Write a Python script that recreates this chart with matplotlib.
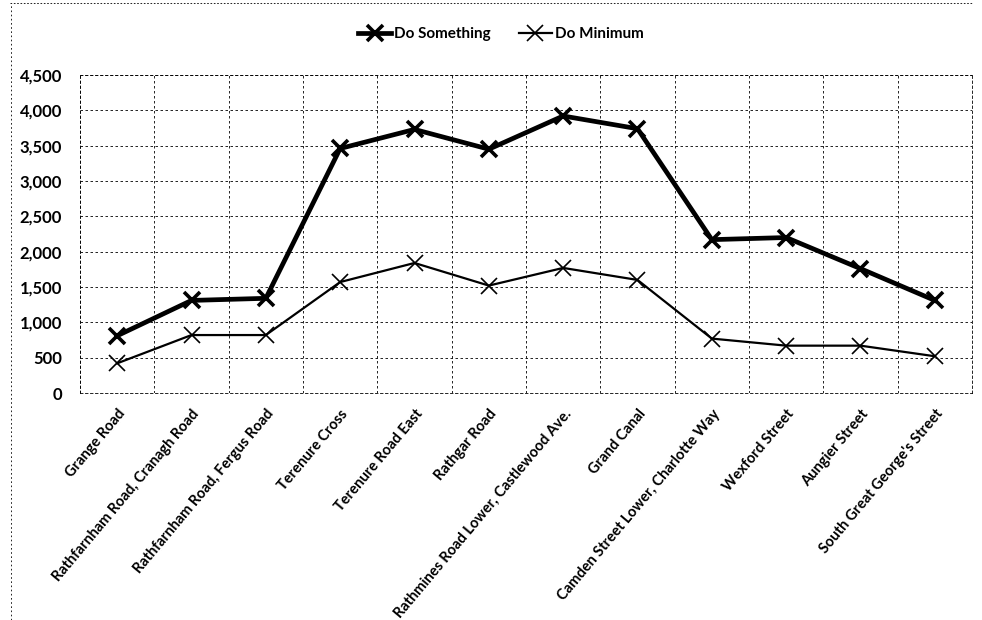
import matplotlib
matplotlib.use("Agg")
import matplotlib.pyplot as plt
from matplotlib.lines import Line2D

categories = ["Grange Road", "Rathfarnham Road, Cranagh Road", "Rathfarnham Road, Fergus Road",
              "Terenure Cross", "Terenure Road East", "Rathgar Road",
              "Rathmines Road Lower, Castlewood Ave.", "Grand Canal",
              "Camden Street Lower, Charlotte Way", "Wexford Street", "Aungier Street",
              "South Great George's Street"]
do_something = [810, 1310, 1340, 3460, 3730, 3450, 3920, 3740, 2170, 2200, 1760, 1310]
do_minimum = [420, 820, 820, 1570, 1840, 1520, 1770, 1600, 770, 670, 670, 520]
yticks = [0, 500, 1000, 1500, 2000, 2500, 3000, 3500, 4000, 4500]

plt.rcParams['font.family'] = ['Lato', 'DejaVu Sans']

fig = plt.figure(figsize=(9.82, 6.2), dpi=100)
ax = fig.add_axes([80/982, 1-393/620, (972-80)/982, (393-75)/620])

x = list(range(len(categories)))
ax.plot(x, do_something, color='black', lw=3.4, marker='x', ms=12, mew=2.6, label='Do Something')
ax.plot(x, do_minimum, color='black', lw=1.6, marker='x', ms=11, mew=1.2, label='Do Minimum')

ax.set_xlim(-0.5, len(categories)-0.5)
ax.set_ylim(0, 4500)
ax.set_yticks(yticks)
ax.set_yticklabels([f"{v:,}" for v in yticks], fontsize=12, fontweight='bold')
ax.set_xticks(x)
ax.set_xticklabels(categories, rotation=50, ha='right', rotation_mode='anchor',
                   fontsize=10.5, fontweight='bold')
ax.tick_params(axis='x', length=0, pad=10)
ax.tick_params(axis='y', length=0, pad=13)

ax.set_xticks([i+0.5 for i in range(-1, len(categories))], minor=True)
ax.grid(True, which='major', axis='y', color='black', ls=(0, (3, 3)), lw=0.6)
ax.grid(True, which='minor', axis='x', color='black', ls=(0, (3, 3)), lw=0.6)
ax.tick_params(axis='x', which='minor', length=0)
for s in ax.spines.values():
    s.set_linestyle((0, (3, 3)))
    s.set_linewidth(0.6)

handles = [Line2D([], [], color='black', lw=3.4, marker='x', ms=12, mew=2.6),
           Line2D([], [], color='black', lw=1.6, marker='x', ms=11, mew=1.2)]
fig.legend(handles, ['Do Something', 'Do Minimum'], loc='center', bbox_to_anchor=(0.51, 1-34/620),
           ncol=2, frameon=False, prop={'size': 11, 'weight': 'bold'},
           handlelength=2.2, columnspacing=1.8, handletextpad=0.2)

# scanned chart border
fig.add_artist(Line2D([0.01, 0.99], [0.995, 0.995], transform=fig.transFigure, color='black',
                      lw=0.6, ls=(0, (2, 2))))
fig.add_artist(Line2D([0.011, 0.011], [0.0, 0.995], transform=fig.transFigure, color='black',
                      lw=0.6, ls=(0, (2, 3))))

fig.savefig("out.png", dpi=100)
